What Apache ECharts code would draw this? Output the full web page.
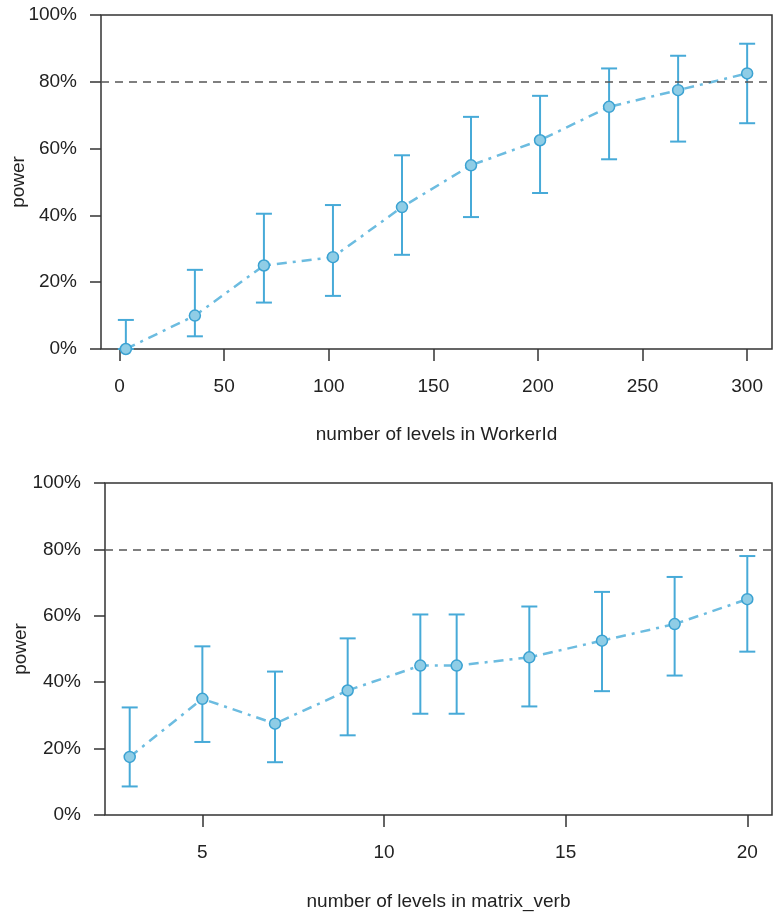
<!DOCTYPE html>
<html lang="en">
<head>
    <meta charset="UTF-8">
    <title>power curves</title>
    <script src="https://cdn.jsdelivr.net/npm/echarts@6/dist/echarts.min.js"></script>
    <style>
        html, body { margin: 0; padding: 0; background: #ffffff; }
        #main { width: 773px; height: 916px; }
    </style>
</head>
<body>
    <div id="main"></div>
    <script type="text/javascript">
        // top panel: number of levels in WorkerId
        var workerLevels = [3, 36, 69, 102, 135, 168, 201, 234, 267, 300];
        var workerPower = [0, 10, 25, 27.5, 42.5, 55, 62.5, 72.5, 77.5, 82.5];
        var workerLower = [0, 3.8, 13.9, 15.9, 28.2, 39.5, 46.7, 56.8, 62.1, 67.6];
        var workerUpper = [8.7, 23.7, 40.5, 43.1, 58, 69.5, 75.8, 84, 87.8, 91.4];
        var workerTicks = [0, 50, 100, 150, 200, 250, 300];

        // bottom panel: number of levels in matrix_verb
        var verbLevels = [3, 5, 7, 9, 11, 12, 14, 16, 18, 20];
        var verbPower = [17.5, 35, 27.5, 37.5, 45, 45, 47.5, 52.5, 57.5, 65];
        var verbLower = [8.6, 22, 15.9, 24, 30.5, 30.5, 32.7, 37.3, 42, 49.2];
        var verbUpper = [32.4, 50.8, 43.2, 53.2, 60.4, 60.4, 62.8, 67.2, 71.7, 78];
        var verbTicks = [5, 10, 15, 20];

        var target = 80;

        var FONT = '"Liberation Sans", Arial, sans-serif';
        var TEXT = '#222222';
        var BAR = '#47aad8';

        // R-style padding of 4% on each side of the data range
        function padRange(values) {
            var lo = Math.min.apply(null, values), hi = Math.max.apply(null, values);
            var pad = (hi - lo) * 0.04;
            return [lo - pad, hi + pad];
        }

        function xAxisFor(idx, levels, ticks, name, gap) {
            var r = padRange(levels);
            return {
                type: 'value', gridIndex: idx, min: r[0], max: r[1],
                name: name, nameLocation: 'middle', nameGap: gap, nameMoveOverlap: false,
                nameTextStyle: { fontFamily: FONT, fontSize: 19, color: TEXT },
                axisLine: { show: false, onZero: false },
                axisTick: { show: true, inside: false, length: 12, customValues: ticks,
                    lineStyle: { color: '#333', width: 1.5 } },
                axisLabel: { customValues: ticks, margin: 28, fontFamily: FONT, fontSize: 19, color: TEXT },
                splitLine: { show: false }
            };
        }

        function yAxisFor(idx, gap) {
            return {
                type: 'value', gridIndex: idx, min: 0, max: 100, interval: 20,
                name: 'power', nameLocation: 'middle', nameGap: gap, nameMoveOverlap: false,
                nameTextStyle: { fontFamily: FONT, fontSize: 19, color: TEXT },
                axisLine: { show: false, onZero: false },
                axisTick: { show: true, inside: false, length: 11, lineStyle: { color: '#333', width: 1.5 } },
                axisLabel: { margin: 24, fontFamily: FONT, fontSize: 19, color: TEXT,
                    formatter: function (v) { return v + '%'; } },
                splitLine: { show: false }
            };
        }

        function errorSeries(idx, levels, lower, upper) {
            var data = levels.map(function (x, i) { return [x, lower[i], upper[i]]; });
            return {
                type: 'custom', xAxisIndex: idx, yAxisIndex: idx, z: 2,
                data: data,
                renderItem: function (params, api) {
                    var lo = api.coord([api.value(0), api.value(1)]);
                    var hi = api.coord([api.value(0), api.value(2)]);
                    var w = 8;
                    var style = { stroke: BAR, lineWidth: 2, fill: null };
                    return {
                        type: 'group',
                        children: [
                            { type: 'line', shape: { x1: lo[0], y1: lo[1], x2: hi[0], y2: hi[1] }, style: style },
                            { type: 'line', shape: { x1: lo[0] - w, y1: lo[1], x2: lo[0] + w, y2: lo[1] }, style: style },
                            { type: 'line', shape: { x1: hi[0] - w, y1: hi[1], x2: hi[0] + w, y2: hi[1] }, style: style }
                        ]
                    };
                }
            };
        }

        function pointSeries(idx, levels, power) {
            return {
                type: 'line', xAxisIndex: idx, yAxisIndex: idx, z: 3,
                data: levels.map(function (x, i) { return [x, power[i]]; }),
                symbol: 'circle', symbolSize: 11,
                lineStyle: { color: '#6cbce0', width: 2.5, type: [10, 6, 3, 6] },
                itemStyle: { color: '#8fcde6', borderColor: '#3ba2d2', borderWidth: 1.5 }
            };
        }

        // dashed 80% reference line, drawn above the curve like the original
        function targetSeries(idx) {
            return {
                type: 'line', xAxisIndex: idx, yAxisIndex: idx, z: 5, data: [],
                markLine: {
                    silent: true, symbol: 'none', label: { show: false },
                    lineStyle: { color: '#555555', width: 1.5, type: [8, 6] },
                    data: [{ yAxis: target }]
                }
            };
        }

        var chart = echarts.init(document.getElementById('main'), null, { renderer: 'canvas' });

        chart.setOption({
            backgroundColor: '#ffffff',
            animation: false,
            grid: [
                { left: 101, top: 15, right: 1, height: 334, outerBoundsMode: 'none', containLabel: false,
                    show: true, borderColor: '#333', borderWidth: 1.5 },
                { left: 105, top: 483, right: 1, height: 332, outerBoundsMode: 'none', containLabel: false,
                    show: true, borderColor: '#333', borderWidth: 1.5 }
            ],
            xAxis: [
                xAxisFor(0, workerLevels, workerTicks, 'number of levels in WorkerId', 76),
                xAxisFor(1, verbLevels, verbTicks, 'number of levels in matrix_verb', 77)
            ],
            yAxis: [yAxisFor(0, 73), yAxisFor(1, 75)],
            series: [
                errorSeries(0, workerLevels, workerLower, workerUpper),
                pointSeries(0, workerLevels, workerPower),
                targetSeries(0),
                errorSeries(1, verbLevels, verbLower, verbUpper),
                pointSeries(1, verbLevels, verbPower),
                targetSeries(1)
            ]
        });
    </script>
</body>
</html>
